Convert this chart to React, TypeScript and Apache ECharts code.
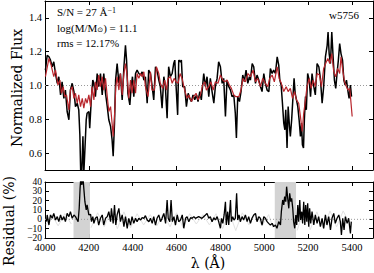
import React, { useEffect, useRef } from 'react';
import * as echarts from 'echarts';

const xTicks = [4000, 4200, 4400, 4600, 4800, 5000, 5200, 5400];
const fluxTicks = [0.6, 0.8, 1.0, 1.2, 1.4];
const resTicks = [-20, -10, 0, 10, 20, 30, 40];
const resLabelsEven = [-20, 0, 20, 40];
const resLabelsOdd = [-10, 10, 30];
const maskedBands: [number, number][] = [[4130, 4205], [5048, 5145]];

const spectrum: [number, number][] = [
  [4002,1.091],[4010,1.179],[4018,1.170],[4025,1.150],[4033,1.111],[4040,1.140],[4048,1.071],[4056,1.013],[4063,1.052],[4071,0.944],
  [4078,1.022],[4086,0.924],[4093,0.973],[4101,0.846],[4109,0.797],[4116,0.973],[4124,1.013],[4132,0.964],[4139,0.875],[4147,0.895],
  [4154,0.856],[4159,0.709],[4163,0.48],[4168,0.50],[4173,0.699],[4177,0.48],[4182,0.620],[4188,0.797],[4192,0.836],[4200,0.846],
  [4204,0.748],[4211,0.915],[4218,1.032],[4223,1.013],[4230,0.934],[4238,1.071],[4245,0.993],[4253,1.071],[4261,0.944],[4268,1.071],
  [4276,0.954],[4284,0.875],[4291,0.797],[4299,0.758],[4306,0.679],[4311,0.581],[4317,0.777],[4322,1.032],[4329,1.130],[4337,1.013],
  [4344,1.071],[4352,0.915],[4360,1.111],[4367,1.238],[4372,1.150],[4378,0.954],[4387,0.885],[4393,0.993],[4399,1.052],[4405,0.934],
  [4413,1.071],[4420,1.091],[4428,1.071],[4436,1.062],[4443,1.081],[4451,1.032],
  [4458,1.052],[4466,0.895],[4473,1.091],[4481,1.071],[4488,1.003],[4496,0.915],[4504,1.111],[4511,1.091],[4519,1.032],[4526,0.993],
  [4534,0.866],[4542,1.052],[4549,0.993],[4557,0.807],[4564,1.111],[4572,1.052],[4580,1.071],[4587,1.130],[4592,1.150],[4598,0.993],
  [4605,0.826],[4610,1.150],[4618,1.140],[4622,1.150],[4628,0.993],[4637,0.993],[4645,0.875],[4653,0.954],[4660,0.924],[4668,0.905],
  [4675,0.944],[4683,0.915],[4691,0.944],[4698,0.905],[4706,0.964],[4713,0.915],[4724,1.071],[4732,0.993],[4739,1.052],[4747,0.934],
  [4754,1.042],[4762,0.964],[4770,0.895],[4777,0.993],[4785,1.042],[4792,1.140],[4800,1.111],[4808,1.013],[4815,1.042],[4823,0.817],
  [4830,1.032],[4838,0.993],[4846,0.973],[4853,0.934],[4861,0.944],[4868,0.836],[4873,0.689],[4879,0.934],[4887,0.905],[4894,0.964],
  [4902,1.062],[4909,1.023],[4917,1.091],[4925,1.013],[4932,1.052],
  [4937,1.032],[4945,1.130],[4952,1.111],[4960,1.013],[4967,1.062],[4975,1.032],[4983,0.993],[4990,0.964],[4998,1.071],[5005,1.013],
  [5013,0.973],[5021,0.964],[5028,1.101],[5036,1.071],[5043,1.091],[5051,1.071],[5059,1.170],[5066,1.121],[5071,1.032],[5077,1.003],
  [5083,0.895],[5089,0.777],[5094,0.738],[5098,0.856],[5104,0.630],[5109,0.875],[5115,0.758],[5119,0.699],[5125,0.797],[5132,0.954],
  [5136,1.042],[5141,0.954],[5147,0.915],[5153,0.875],[5159,0.797],[5165,0.699],[5170,0.777],[5174,0.650],[5179,0.630],[5183,0.797],
  [5188,0.934],[5192,0.856],[5198,1.071],[5205,1.032],[5211,0.934],[5218,1.071],[5226,0.993],[5233,0.944],[5241,1.130],[5249,1.111],
  [5256,1.042],[5264,0.895],[5271,0.993],[5279,1.170],[5287,1.238],[5291,1.317],[5296,1.189],[5302,1.130],[5308,1.317],[5314,1.170],
  [5320,1.032],[5326,0.983],[5332,1.071],[5338,1.150],[5344,1.248],[5350,1.189],[5357,1.150],[5363,1.032],[5369,1.003],[5375,1.032],
  [5381,0.973],[5387,0.924],[5393,1.003],[5398,0.934]
];

const model: [number, number][] = [
  [4002,1.052],[4018,1.160],[4028,1.121],[4040,1.052],[4048,1.091],[4059,1.003],[4068,1.032],[4075,0.954],[4083,0.993],[4090,0.934],
  [4098,0.944],[4109,0.856],[4116,0.973],[4124,0.993],[4132,0.924],[4139,0.954],[4147,0.895],[4154,0.944],[4162,0.875],[4170,0.924],
  [4177,0.866],[4185,0.924],[4192,0.895],[4200,0.944],[4208,0.875],[4215,0.993],[4223,0.915],[4230,1.022],[4238,0.973],[4245,1.062],
  [4253,0.993],[4261,1.052],[4268,0.973],[4276,1.042],[4284,0.934],[4291,0.846],[4299,0.875],[4306,0.777],[4311,0.699],[4317,0.817],
  [4323,0.993],[4329,1.052],[4337,0.973],[4344,1.071],[4352,0.944],[4360,1.071],[4367,1.130],[4375,1.052],[4382,0.924],[4390,1.032],
  [4397,0.954],[4405,1.032],[4413,0.954],[4420,1.071],[4428,1.042],[4436,1.071],[4443,1.052],[4451,1.081],
  [4458,0.993],[4470,0.934],[4481,1.081],[4488,0.973],[4499,0.973],[4508,1.111],[4519,1.071],[4526,1.013],[4537,0.983],[4546,1.032],
  [4554,0.973],[4561,1.042],[4572,1.052],[4580,1.013],[4589,1.042],[4598,1.022],[4607,1.013],[4616,1.071],[4625,1.042],[4637,0.973],
  [4648,0.924],[4656,0.944],[4668,0.905],[4678,0.934],[4689,0.954],[4698,0.915],[4709,0.944],[4719,1.003],[4729,1.022],[4736,0.973],
  [4747,0.993],[4757,1.022],[4767,0.973],[4777,1.022],[4789,1.013],[4800,1.062],[4811,1.032],[4820,1.022],[4830,1.032],[4841,1.003],
  [4850,0.983],[4861,0.944],[4871,0.934],[4884,0.934],[4894,0.973],[4903,1.042],[4914,1.022],[4926,1.071],
  [4937,1.052],[4949,1.091],[4960,1.022],[4970,1.042],[4983,0.993],[4993,1.042],[5005,1.013],[5016,0.993],[5025,1.042],[5036,1.062],
  [5046,1.022],[5059,1.111],[5068,1.042],[5078,1.013],[5089,0.964],[5100,0.993],[5109,0.964],[5119,0.983],[5129,0.924],[5138,0.964],
  [5147,0.915],[5157,0.895],[5165,0.817],[5173,0.728],[5180,0.836],[5188,0.915],[5195,0.993],[5205,1.042],[5214,0.983],[5223,1.032],
  [5233,0.993],[5241,1.071],[5252,1.062],[5261,0.993],[5271,1.101],[5280,1.130],[5290,1.160],[5299,1.130],[5308,1.189],[5317,1.081],
  [5326,1.052],[5335,1.101],[5344,1.071],[5350,1.170],[5358,1.091],[5366,1.022],[5375,0.993],[5382,0.973],[5390,0.983],[5401,0.817]
];

const residual: [number, number][] = [
  [4007,-2.5],[4010,4.7],[4018,-6.1],[4025,4.7],[4033,1.1],[4040,6.4],[4048,-0.7],[4056,2.9],[4063,-2.5],[4071,4.7],
  [4078,-0.7],[4086,2.9],[4093,-2.5],[4101,6.4],[4109,2.9],[4116,8.2],[4124,1.1],[4132,4.7],[4139,2.9],[4147,-0.7],
  [4151,-2.5],[4156,11.8],[4160,33.2],[4163,43.9],[4168,36.8],[4173,45.7],[4177,33.2],[4182,18.9],[4188,10.0],[4192,15.4],
  [4200,4.7],[4208,5.4],[4212,-2.5],[4218,2.9],[4223,-4.3],[4230,1.1],[4238,2.9],[4245,-6.1],[4253,1.1],[4261,4.7],
  [4268,-6.1],[4276,1.1],[4284,2.9],[4291,8.2],[4299,-2.5],[4303,11.8],[4311,-4.3],[4317,15.4],[4323,-6.1],[4329,4.7],
  [4337,11.8],[4344,-2.5],[4352,4.7],[4360,-7.8],[4367,2.9],[4375,-9.6],[4382,1.1],[4390,-6.1],[4397,2.9],[4405,-4.3],
  [4413,1.1],[4420,-2.5],[4428,1.1],[4436,-0.7],[4443,1.8],[4451,1.1],[4458,3.9],[4466,-0.7],[4474,-2.5],[4481,1.1],
  [4489,-4.3],[4496,2.9],[4504,-6.1],[4511,1.1],[4519,4.7],[4527,-2.5],[4534,1.1],[4542,6.4],[4550,-4.3],[4557,20.7],
  [4562,1.1],[4569,-2.5],[4575,20.7],[4581,-2.5],[4588,2.9],[4595,-6.1],[4603,4.7],[4610,-2.5],[4618,-0.7],[4626,4.7],
  [4633,-9.6],[4641,1.1],[4648,2.9],[4656,-2.5],[4664,1.8],[4671,1.1],[4679,2.9],
  [4686,1.1],[4701,2.9],[4716,1.1],[4732,4.7],[4739,6.4],[4747,1.1],[4754,2.9],[4762,-2.5],[4770,1.8],[4777,-0.7],
  [4785,2.9],[4792,-2.5],[4800,-9.6],[4805,1.1],[4811,-4.3],[4817,4.7],[4823,18.9],[4827,-6.1],[4833,8.2],[4838,-6.1],
  [4846,20.7],[4850,-2.5],[4856,2.9],[4862,-0.7],[4868,1.1],[4874,27.9],[4879,-0.7],[4885,4.7],[4891,-2.5],[4899,2.9],
  [4906,-0.7],[4914,4.7],[4922,-2.5],[4929,2.9],[4937,-4.3],[4944,1.1],[4952,4.7],[4960,6.4],[4967,-2.5],[4975,2.9],
  [4982,1.1],[4990,-6.1],[4998,2.9],[5005,1.1],[5013,-2.5],[5020,-4.3],[5028,-6.1],[5036,-4.3],[5043,-7.8],[5051,-6.1],
  [5058,-9.6],[5066,-2.5],[5074,-6.1],[5078,8.2],[5084,20.7],[5089,15.4],[5093,24.3],[5098,18.9],[5102,35.0],[5107,22.5],
  [5112,11.8],[5116,27.9],[5121,18.9],[5125,22.5],[5130,11.8],[5134,-2.5],[5139,-9.6],[5144,4.7],[5148,-6.1],[5153,15.4],
  [5157,-2.5],[5162,20.7],[5166,-0.7],[5171,8.2],[5175,-4.3],[5180,18.9],[5185,-6.1],[5189,15.4],[5194,-2.5],[5198,17.2],
  [5203,-7.8],[5207,11.8],[5212,-4.3],[5218,8.2],[5226,-6.1],[5233,4.7],[5241,-4.3],[5248,2.9],[5256,-7.8],[5264,1.1],
  [5271,-9.6],[5279,4.7],[5286,-6.1],[5294,2.9],[5302,-11.4],[5309,1.1],[5317,6.4],[5324,-4.3],[5332,1.1],[5340,4.7],
  [5347,-2.5],[5352,-16.8],[5358,1.1],[5364,-11.4],[5370,2.9],[5378,-4.3],[5385,1.1],[5393,-15.0],[5397,-2.5]
];

const residualNoise: [number, number | null][] = [
  [4005,-6],[4030,5],[4060,-7],[4090,6],[4120,-5],[4128,null],[4210,-9],[4240,7],[4270,-8],[4300,9],
  [4330,-10],[4360,8],[4390,-9],[4420,6],[4450,-6],[4480,5],[4510,-7],[4540,6],[4570,-8],[4600,7],
  [4630,-9],[4660,6],[4690,-5],[4720,5],[4750,-6],[4780,6],[4810,-10],[4840,8],[4870,-12],[4900,7],
  [4930,-6],[4960,6],[4990,-7],[5020,5],[5040,-9],[5046,null],[5150,-12],[5180,10],[5210,-11],[5240,8],
  [5270,-10],[5300,9],[5330,-8],[5360,9],[5395,-7]
];

const X_MIN = 4000;
const X_MAX = 5496;
const SERIF = '"Liberation Serif", "DejaVu Serif", serif';

function xAxis(gridIndex: number, position: 'top' | 'bottom', showLabel: boolean) {
  return {
    type: 'value', gridIndex, position, min: X_MIN, max: X_MAX,
    axisLine: { show: true, onZero: false, lineStyle: { color: '#000', width: 1 } },
    axisTick: { show: true, inside: true, length: 4, customValues: xTicks, lineStyle: { color: '#000', width: 1 } },
    axisLabel: {
      show: showLabel, customValues: xTicks, margin: 4, color: '#000', fontFamily: SERIF, fontSize: 10.5,
      formatter: (v: number) => String(v),
    },
    splitLine: { show: false },
  };
}

function yAxis(
  gridIndex: number, position: 'left' | 'right', min: number, max: number, ticks: number[],
  labels: number[] | null, fmt: (v: number) => string, fontSize: number, lineHeight: number, showLine = true,
) {
  return {
    type: 'value', gridIndex, position, min, max,
    axisLine: { show: showLine, onZero: false, lineStyle: { color: '#000', width: 1 } },
    axisTick: { show: showLine, inside: true, length: 4, customValues: ticks, lineStyle: { color: '#000', width: 1 } },
    axisLabel: {
      show: !!labels, customValues: labels || ticks, margin: 3, color: '#000', fontFamily: SERIF, fontSize,
      lineHeight, formatter: fmt, showMinLabel: true, showMaxLabel: true, hideOverlap: false,
    },
    splitLine: { show: false },
  };
}

const fmtFlux = (v: number) => v.toFixed(1);
const fmtRes = (v: number) => (v < 0 ? '\u2212' + Math.abs(v) : String(v));

export default function App() {
  const ref = useRef<HTMLDivElement>(null);
  useEffect(() => {
    if (!ref.current) return;
    const chart = echarts.init(ref.current, null, { renderer: 'svg' });
    chart.setOption({
      animation: false,
      backgroundColor: '#fff',
      grid: [
        { left: 45, top: 1, width: 328, height: 169 },
        { left: 45, top: 182, width: 328, height: 56 },
      ],
      xAxis: [
        xAxis(0, 'bottom', false),
        xAxis(0, 'top', false),
        xAxis(1, 'bottom', true),
        xAxis(1, 'top', false),
      ],
      yAxis: [
        yAxis(0, 'left', 0.5, 1.5, fluxTicks, fluxTicks, fmtFlux, 10.5, 12),
        yAxis(0, 'right', 0.5, 1.5, fluxTicks, null, fmtFlux, 10.5, 12),
        yAxis(1, 'left', -20, 40, resTicks, resLabelsEven, fmtRes, 9.5, 9),
        yAxis(1, 'right', -20, 40, resTicks, null, fmtRes, 9.5, 9),
        yAxis(1, 'left', -20, 40, resTicks, resLabelsOdd, fmtRes, 9.5, 9, false),
      ],
      series: [
        {
          type: 'line', xAxisIndex: 0, yAxisIndex: 0, data: [[X_MIN, 1], [X_MAX, 1]],
          showSymbol: false, silent: true, z: 1,
          lineStyle: { color: '#999', width: 1, type: [1, 2] },
        },
        {
          type: 'line', xAxisIndex: 0, yAxisIndex: 0, data: spectrum,
          showSymbol: false, z: 2, lineStyle: { color: '#000', width: 1.5 },
        },
        {
          type: 'line', xAxisIndex: 0, yAxisIndex: 0, data: model,
          showSymbol: false, z: 3, lineStyle: { color: '#b8252c', width: 1.2 },
        },
        {
          type: 'line', xAxisIndex: 2, yAxisIndex: 2, data: residualNoise,
          showSymbol: false, z: 1, lineStyle: { color: '#e2e2e2', width: 1 },
          markArea: {
            silent: true,
            itemStyle: { color: '#d3d3d3' },
            data: maskedBands.map(([a, b]) => [{ xAxis: a }, { xAxis: b }]),
          },
        },
        {
          type: 'line', xAxisIndex: 2, yAxisIndex: 2, data: [[X_MIN, 0], [X_MAX, 0]],
          showSymbol: false, silent: true, z: 2,
          lineStyle: { color: '#999', width: 1, type: [1, 2] },
        },
        {
          type: 'line', xAxisIndex: 2, yAxisIndex: 2, data: residual,
          showSymbol: false, z: 3, lineStyle: { color: '#000', width: 1.3 },
        },
      ],
      graphic: [
        {
          type: 'text', x: 57, y: 12,
          style: {
            text: 'S/N = 27 \u00c5{sup|\u22121}', fill: '#000', fontSize: 11, fontFamily: SERIF,
            textAlign: 'left', textVerticalAlign: 'middle',
            rich: { sup: { fontSize: 8, fontFamily: SERIF, verticalAlign: 'top', fill: '#000' } },
          },
        },
        {
          type: 'text', x: 57, y: 28,
          style: {
            text: 'log(M/M{sub|\u2299}) = 11.1', fill: '#000', fontSize: 11, fontFamily: SERIF,
            textAlign: 'left', textVerticalAlign: 'middle',
            rich: { sub: { fontSize: 7, fontFamily: '"DejaVu Sans", sans-serif', verticalAlign: 'bottom', fill: '#000' } },
          },
        },
        {
          type: 'text', x: 57, y: 43,
          style: { text: 'rms = 12.17%', fill: '#000', fontSize: 11, fontFamily: SERIF, textAlign: 'left', textVerticalAlign: 'middle' },
        },
        {
          type: 'text', x: 359, y: 15,
          style: { text: 'w5756', fill: '#000', fontSize: 11, fontFamily: SERIF, textAlign: 'right', textVerticalAlign: 'middle' },
        },
        {
          type: 'text', x: 17, y: 88, rotation: Math.PI / 2,
          style: { text: 'Normalized Flux', fill: '#000', fontSize: 14, fontFamily: '"DejaVu Serif", serif', textAlign: 'center', textVerticalAlign: 'middle' },
        },
        {
          type: 'text', x: 8.5, y: 221, rotation: Math.PI / 2,
          style: { text: 'Residual (%)', fill: '#000', fontSize: 14, fontFamily: '"DejaVu Serif", serif', textAlign: 'center', textVerticalAlign: 'middle' },
        },
        {
          type: 'text', x: 208, y: 263,
          style: { text: '\u03bb (\u00c5)', fill: '#000', fontSize: 14, fontFamily: '"DejaVu Serif", serif', textAlign: 'center', textVerticalAlign: 'middle' },
        },
      ],
    });
    return () => chart.dispose();
  }, []);
  return <div ref={ref} style={{ position: 'absolute', left: 0, top: 0, width: 374, height: 273 }} />;
}
